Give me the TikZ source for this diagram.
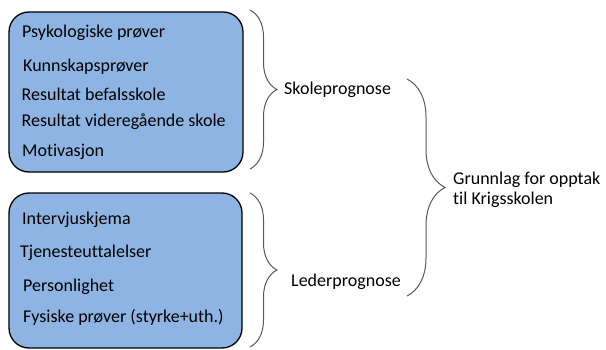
\documentclass[tikz,border=0pt]{standalone}
\usepackage{fontspec}
\setmainfont[Ligatures=NoCommon]{Carlito}
\usetikzlibrary{decorations.pathreplacing}
\definecolor{boxblue}{HTML}{8EB4E3}
\definecolor{bracegray}{HTML}{595959}
\tikzset{
	itembox/.style={draw=black, line width=1.3pt, fill=boxblue, rounded corners=20pt},
	item/.style={anchor=west, inner sep=0pt},
	label/.style={anchor=west, inner sep=0pt, align=left},
	bracket/.style={draw=bracegray, line width=1pt, decorate, decoration={brace, amplitude=#1}}
}
\begin{document}
\begin{tikzpicture}[x=10pt, y=10pt, font=\fontsize{18}{20.5}\selectfont]
				\useasboundingbox (0,0) rectangle (60.6,34.9);
				% boxes
				\draw [itembox] (0.9,33.7) rectangle (24.3,17.7);
				\draw [itembox] (0.9,15.6) rectangle (24.2,0.1);
				
				\node [item] (psyk) at (2.2,31.6) {Psykologiske prøver};
				\node [item] (kunn) at (2.3,28.2) {Kunnskapsprøver};
				\node [item] (befal) at (2.15,25.5) {Resultat befalsskole};
				\node [item] (vgs) at (2.15,22.7) {Resultat videregående skole};
				\node [item] (motiv) at (2.2,19.7) {Motivasjon};
				
				\node [item] (interv) at (2.2,12.9) {Intervjuskjema};
				\node [item] (tjen) at (2.0,9.6) {Tjenesteuttalelser};
				\node [item] (pers) at (2.3,6.2) {Personlighet};
				\node [item] (fys) at (2.3,3.2) {Fysiske prøver (styrke+uth.)};
				
				% labels
				\node [label] (skole) at (28.4,25.9) {Skoleprognose};
				\node [label] (leder) at (29.1,6.7) {Lederprognose};
				\node [label] (grunnlag) at (45.3,15.9) {Grunnlag for opptak\\til Krigsskolen};
				
				% braces
				\coordinate (s1) at (25.0,33.9);
				\coordinate (s2) at (25.0,18.0);
				\coordinate (l1) at (25.0,15.6);
				\coordinate (l2) at (25.0,0.2);
				\coordinate (g1) at (40.7,27.0);
				\coordinate (g2) at (40.7,5.3);
				\draw [bracket=27pt] (s1) -- (s2);
				\draw [bracket=27pt] (l1) -- (l2);
				\draw [bracket=38pt] (g1) -- (g2);
			\end{tikzpicture}
\end{document}
